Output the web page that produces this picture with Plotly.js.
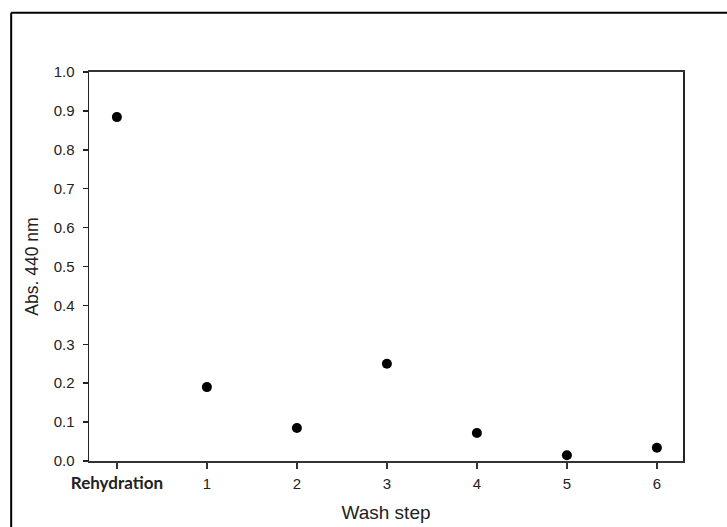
<!DOCTYPE html>
<html>
<head>
<meta charset="utf-8">
<script src="https://cdn.plot.ly/plotly-3.0.1.min.js"></script>
<style>
  html, body { margin: 0; padding: 0; background: #fff; }
  #chart { width: 727px; height: 527px; }
</style>
</head>
<body>
<div id="chart"></div>
<script>
// Data
var categories = ["Rehydration", "1", "2", "3", "4", "5", "6"];
var xPositions = [0, 1, 2, 3, 4, 5, 6];
var absValues = [0.884, 0.190, 0.085, 0.250, 0.072, 0.015, 0.034];
var tickLabels = ["<span style='font-family:Lato;font-weight:bold;font-size:17px'>Rehydration</span>", "1", "2", "3", "4", "5", "6"];
var yTicks = [0, 0.1, 0.2, 0.3, 0.4, 0.5, 0.6, 0.7, 0.8, 0.9, 1.0];
var yTickLabels = ["0.0", "0.1", "0.2", "0.3", "0.4", "0.5", "0.6", "0.7", "0.8", "0.9", "1.0"];

var trace = {
  x: xPositions,
  y: absValues,
  type: "scatter",
  mode: "markers",
  marker: { color: "#000", size: 10 },
  hoverinfo: "x+y",
  showlegend: false
};

var layout = {
  width: 727,
  height: 527,
  paper_bgcolor: "#fff",
  plot_bgcolor: "#fff",
  margin: { l: 89, r: 44, t: 72, b: 66, pad: 0 },
  font: { family: "Liberation Sans, Arial, sans-serif", size: 15, color: "#222" },
  xaxis: {
    range: [-0.31, 6.29],
    tickmode: "array",
    tickvals: xPositions,
    ticktext: tickLabels,
    ticks: "outside",
    ticklen: 6,
    tickwidth: 1.5,
    tickcolor: "#333",
    ticklabelstandoff: 2,
    showline: true,
    linecolor: "#333",
    linewidth: 2,
    mirror: true,
    showgrid: false,
    zeroline: false,
    tickfont: { size: 15, color: "#222" },
    title: { text: "Wash step", font: { size: 19, color: "#222" }, standoff: 14 }
  },
  yaxis: {
    range: [0, 1.0],
    tickmode: "array",
    tickvals: yTicks,
    ticktext: yTickLabels,
    ticks: "outside",
    ticklen: 5,
    tickwidth: 1.5,
    tickcolor: "#222",
    ticklabelstandoff: 5,
    showline: true,
    linecolor: "#222",
    linewidth: 1.5,
    mirror: true,
    showgrid: false,
    zeroline: false,
    tickfont: { size: 15, color: "#222" },
    title: { text: "Abs. 440 nm", font: { size: 17.5, color: "#222" }, standoff: 10 }
  },
  shapes: [
    { type: "line", xref: "paper", yref: "paper",
      x0: -0.131, x1: -0.131, y0: 1.152, y1: -0.2,
      line: { color: "#000", width: 2 } },
    { type: "line", xref: "paper", yref: "paper",
      x0: -0.131, x1: 1.1, y0: 1.152, y1: 1.152,
      line: { color: "#000", width: 2 } }
  ]
};

Plotly.newPlot("chart", [trace], layout, { displayModeBar: false, staticPlot: true });
</script>
</body>
</html>
